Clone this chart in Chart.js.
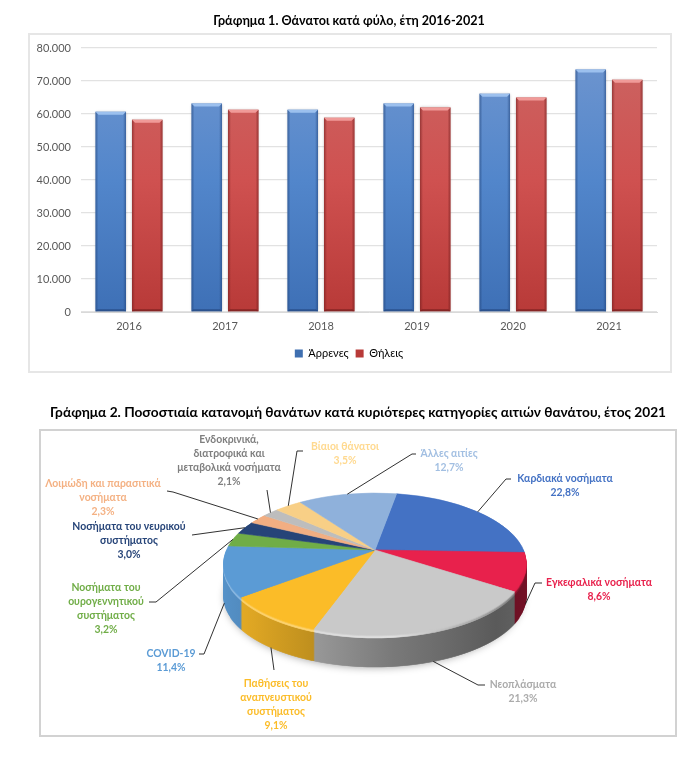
<!DOCTYPE html>
<html><head><meta charset="utf-8">
<script src="https://cdn.jsdelivr.net/npm/chart.js@4"></script>
<style>
html,body{margin:0;padding:0;background:#fff;width:698px;height:759px;overflow:hidden}
#wrap{position:relative;width:698px;height:759px}
.frame{position:absolute;box-sizing:border-box}
#f1{left:28px;top:33px;width:644px;height:340px;border:2px solid #e6e6e6}
#f2{left:39px;top:429px;width:638px;height:308px;border:2px solid #d2d2d2}
canvas{position:absolute;left:0;filter:blur(.3px)}
#c1{top:0}
#c2{top:395px}
</style></head><body><div id="wrap">
<div class="frame" id="f1"></div><div class="frame" id="f2"></div>
<canvas id="c1" width="698" height="385"></canvas>
<canvas id="c2" width="698" height="364"></canvas>
</div>
<script>
const FONT = "Lato, 'Noto Sans', sans-serif";
const years = ['2016','2017','2018','2019','2020','2021'];
const males = [60700,63200,61300,63200,66200,73500];
const females = [58300,61300,58900,62000,65000,70400];
const seriesNames = ['Άρρενες','Θήλεις'];
const title1 = 'Γράφημα 1. Θάνατοι κατά φύλο, έτη 2016-2021';
const title2 = 'Γράφημα 2. Ποσοστιαία κατανομή θανάτων κατά κυριότερες κατηγορίες αιτιών θανάτου, έτος 2021';
const causes = [
 ['Καρδιακά νοσήματα'],
 ['Εγκεφαλικά νοσήματα'],
 ['Νεοπλάσματα'],
 ['Παθήσεις του','αναπνευστικού','συστήματος'],
 ['COVID-19'],
 ['Νοσήματα του','ουρογεννητικού','συστήματος'],
 ['Νοσήματα του νευρικού','συστήματος'],
 ['Λοιμώδη και παρασιτικά','νοσήματα'],
 ['Ενδοκρινικά,','διατροφικά και','μεταβολικά νοσήματα'],
 ['Βίαιοι θάνατοι'],
 ['Άλλες αιτίες']
];
const shares = [22.8,8.6,21.3,9.1,11.4,3.2,3.0,2.3,2.1,3.5,12.7];
const sliceColors = ['#4472C4','#E8214C','#C9C9C9','#FBBC28','#5B9BD5','#70AD47','#264478','#F2AE82','#BDBDBD','#F8CF86','#8FB1DB'];
const labelColors = ['#4472C4','#E8214C','#ABABAB','#FBBC28','#5B9BD5','#70AD47','#264478','#F4B183','#7F7F7F','#FFD98F','#A2BFE2'];

/* ---------- bar chart ---------- */
const vGrad = (ctx, a, stops) => { const g = ctx.createLinearGradient(0,a.top,0,a.bottom); stops.forEach((c,i)=>g.addColorStop(i/(stops.length-1),c)); return g; };
const barGloss = {
  id:'barGloss',
  afterLayout(chart){ [chart.titleBlock,chart.legend].forEach(b=>{b.left=0;b.right=chart.width;}); },
  beforeDatasetDraw(chart){ const c=chart.ctx; c.shadowColor='rgba(0,0,0,.35)'; c.shadowBlur=3; c.shadowOffsetX=0; c.shadowOffsetY=0; },
  afterDatasetDraw(chart,args){
    const c=chart.ctx; c.shadowColor='transparent'; c.shadowBlur=0;
    const light = args.index===0 ? '#9cc0ee' : '#f09a98';
    const dark = args.index===0 ? '35,70,125' : '115,30,30';
    chart.getDatasetMeta(args.index).data.forEach(b=>{
      const l=b.x-b.width/2, r=b.x+b.width/2, t=b.y, bt=b.base;
      let g=c.createLinearGradient(l,0,l+3,0); g.addColorStop(0,`rgba(${dark},.6)`); g.addColorStop(1,`rgba(${dark},0)`);
      c.fillStyle=g; c.fillRect(l,t,3,bt-t);
      g=c.createLinearGradient(r-3,0,r,0); g.addColorStop(0,`rgba(${dark},0)`); g.addColorStop(1,`rgba(${dark},.6)`);
      c.fillStyle=g; c.fillRect(r-3,t,3,bt-t);
      c.fillStyle=light; c.beginPath(); c.moveTo(l,t); c.lineTo(r,t); c.lineTo(r-3,t+3); c.lineTo(l+3,t+3); c.closePath(); c.fill();
      c.fillStyle=`rgba(${dark},.7)`; c.beginPath(); c.moveTo(l,bt); c.lineTo(r,bt); c.lineTo(r-2,bt-2); c.lineTo(l+2,bt-2); c.closePath(); c.fill();
    });
  }
};
new Chart(document.getElementById('c1'),{
  type:'bar',
  data:{labels:years,datasets:[
    {label:seriesNames[0],data:males,clip:false,backgroundColor:x=>x.chart.chartArea?vGrad(x.chart.ctx,x.chart.chartArea,['#7096cf','#5286cb','#3e70b6']):'#4f81bd'},
    {label:seriesNames[1],data:females,clip:false,backgroundColor:x=>x.chart.chartArea?vGrad(x.chart.ctx,x.chart.chartArea,['#cb6563','#cf5150','#b83a38']):'#c0504d'}
  ]},
  options:{
    responsive:false,animation:false,
    categoryPercentage:.76,barPercentage:.836,
    layout:{padding:{left:0,right:41,top:0,bottom:16}},
    plugins:{
      tooltip:{enabled:false},
      title:{display:true,text:title1,color:'#000',font:{family:FONT,size:12.6,weight:'bold'},padding:{top:13,bottom:20}},
      legend:{position:'bottom',labels:{color:'#595959',font:{family:FONT,size:11},boxWidth:8,boxHeight:8,padding:7,
        generateLabels:()=>[{text:seriesNames[0],fillStyle:'#3f6fb0',strokeStyle:'#3f6fb0',lineWidth:0,datasetIndex:0},{text:seriesNames[1],fillStyle:'#b83a38',strokeStyle:'#b83a38',lineWidth:0,datasetIndex:1}]}}
    },
    scales:{
      x:{afterFit(s){s.height=29;},grid:{display:false,drawTicks:false},border:{display:true,color:'#d9d9d9',width:1},ticks:{color:'#595959',font:{family:FONT,size:11},padding:8}},
      y:{min:0,max:80000,afterFit(s){s.width=81;},grid:{color:'#e2e2e2',lineWidth:1.3,drawTicks:false},border:{display:false},
         ticks:{stepSize:10000,padding:10,color:'#595959',font:{family:FONT,size:11},callback:v=>v===0?'0':String(v/1000)+'.000'}}
    }
  },
  plugins:[barGloss]
});

/* ---------- pseudo‑3D pie: library arc elements drawn through a perspective row mapping ---------- */
const CX=375, Y0=155, A=148.5, B=68.2, K=0.197, DEPTH=32, W=698;
const leaderVia = [[[506,479],[511,479]],[[535,583],[542,583]],[[478,685],[485,685]],[[274,670]],[[204,654],[199,654]],[[156,602],[149,602]],[[192,535]],[[173,492],[167,491]],[[267,490]],[[297,451],[303,451]],[[412,454],[416,454]]];
const labelAnchor = [[565,479],[599,583],[523,685],[276,684],[171,654],[106,588],[129,527],[103,484],[229,440],[345,447],[449,454]];
const LINE_H = 13.8, TOP = 395;
const hex = h=>[1,3,5].map(i=>parseInt(h.substr(i,2),16));
const mix = (h,f,t)=>{const c=hex(h),to=t||[0,0,0];return `rgb(${c.map((v,i)=>Math.round(v*f+to[i]*(1-f))).join(',')})`;};
const pie3d = {
  id:'pie3d',
  beforeDatasetsDraw(chart){
    const ctx=chart.ctx, arcs=chart.getDatasetMeta(0).data, a0=arcs[0], R=a0.outerRadius, cx0=a0.x, cy0=a0.y;
    const orig=arcs.map(a=>a.options);
    const row=(y,d,opts)=>{
      const Y=y+.5, dy=Y-d-Y0, v=dy/(B+K*dy);
      if(B+K*dy<=0||Math.abs(v)>1.03) return;
      const w=1-K*v, sx=A/(w*R), sy=B/(w*w*R);
      ctx.save(); ctx.beginPath(); ctx.rect(0,y,W,1); ctx.clip();
      ctx.transform(sx,0,0,sy,CX-cx0*sx,Y-(cy0+v*R)*sy);
      arcs.forEach((a,i)=>{a.options=opts[i];a.draw(ctx);});
      ctx.restore();
    };
    const withFill=(mk)=>arcs.map((a,i)=>{const f=mk(i);return Object.create(orig[i],{backgroundColor:{value:f},borderColor:{value:f},borderWidth:{value:1}});});
    const gradOf=(i,fn)=>{const g=ctx.createLinearGradient(cx0-R,0,cx0+R,0);fn(g,sliceColors[i]);return g;};
    const sideFill=(g,c)=>{[[0,.95],[.15,.88],[.3,.78],[.55,.6],[.85,.45],[1,.5]].forEach(s=>g.addColorStop(s[0],mix(c,s[1])));};
    const side=withFill(i=>gradOf(i,sideFill));
    const bevel=withFill(i=>gradOf(i,(g,c)=>{const wh=[255,255,255];g.addColorStop(0,mix(c,.72,wh));g.addColorStop(.55,mix(c,.6,wh));g.addColorStop(.78,mix(c,.85));g.addColorStop(1,mix(c,.5));}));
    const bevel2=withFill(i=>gradOf(i,(g,c)=>{const wh=[255,255,255];g.addColorStop(0,mix(c,.9,wh));g.addColorStop(.55,mix(c,.85,wh));g.addColorStop(.78,mix(c,.95));g.addColorStop(1,mix(c,.75));}));
    /* soft shadow */
    ctx.save();ctx.shadowColor='rgba(0,0,0,.4)';ctx.shadowBlur=9;ctx.shadowOffsetY=2;ctx.fillStyle='#fff';
    ctx.beginPath();ctx.ellipse(CX-1,Y0+14+DEPTH-1,A*1.0,70,0,0,Math.PI*2);ctx.fill();ctx.restore();
    const yT=Math.floor(Y0-60), yB=Math.ceil(Y0+88);
    for(let d=DEPTH;d>=1;d--){
      const o=d<=1?bevel2:d<=3?bevel:side;
      for(let y=Math.max(Y0+0,yT+d);y<=yB+d;y++) row(y,d,o);
    }
    const top=withFill(i=>sliceColors[i]);
    for(let y=yT;y<=yB;y++) row(y,0,top);
    arcs.forEach((a,i)=>{a.options=orig[i];});
    /* leader lines and labels */
    let cum=0;
    const total=shares.reduce((p,q)=>p+q,0);
    ctx.textAlign='center';ctx.textBaseline='middle';
    shares.forEach((s,i)=>{
      const mid=(cum+s/2)/total*2*Math.PI+10*Math.PI/180; cum+=s;
      const u=Math.sin(mid), v=-Math.cos(mid), w=1-K*v;
      const x=CX+A*u/w, y=Y0+B*v/w+(v>0.1?DEPTH:0);
      ctx.strokeStyle='#1a1a1a';ctx.lineWidth=.9;ctx.beginPath();ctx.moveTo(x,y);
      leaderVia[i].forEach(p=>ctx.lineTo(p[0],p[1]-TOP));ctx.stroke();
      ctx.fillStyle=labelColors[i];ctx.font=`bold 10.4px ${FONT}`;
      const lines=causes[i].concat([s.toFixed(1).replace('.',',')+'%']);
      lines.forEach((t,j)=>ctx.fillText(t,labelAnchor[i][0],labelAnchor[i][1]-TOP+j*LINE_H));
    });
    return false;
  }
};
new Chart(document.getElementById('c2'),{
  type:'pie',
  data:{labels:causes.map(c=>c.join(' ')),datasets:[{data:shares,backgroundColor:sliceColors,borderColor:sliceColors,borderWidth:1}]},
  options:{
    responsive:false,animation:false,rotation:10,
    layout:{padding:{left:18,right:0,top:0,bottom:0}},
    plugins:{tooltip:{enabled:false},legend:{display:false},
      title:{display:true,text:title2,color:'#000',font:{family:FONT,size:13.7,weight:'bold'},padding:{top:9,bottom:10}}}
  },
  plugins:[pie3d]
});
</script></body></html>
